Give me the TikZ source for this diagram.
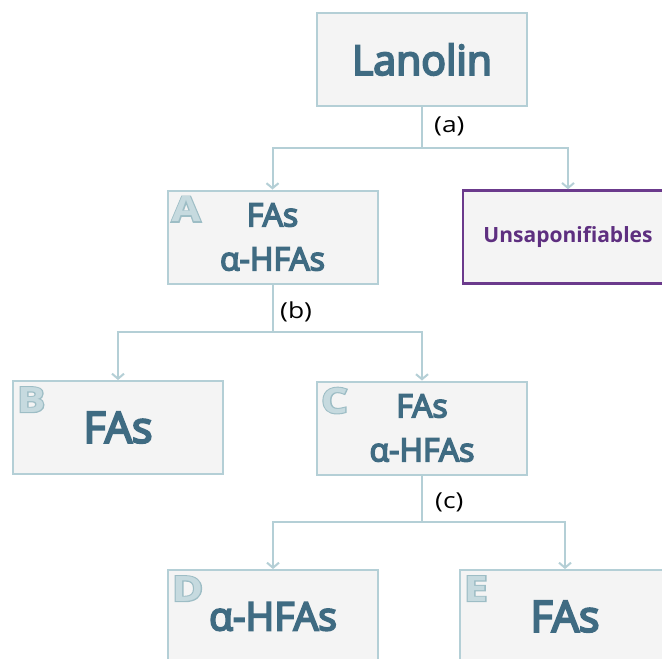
\documentclass[tikz,border=0pt]{standalone}
\usepackage{graphicx}
\usepackage{fontspec}
\setmainfont{Open Sans}
\newfontfamily\semib{Open Sans}[FakeBold=5]
\newfontfamily\lettfam{Open Sans}[BoldFeatures={FakeBold=6}]
\usetikzlibrary{arrows.meta}
\definecolor{bord}{HTML}{B4CFD6}
\definecolor{boxfill}{HTML}{F4F4F4}
\definecolor{txt}{HTML}{3F6B82}
\definecolor{purp}{HTML}{6B3A8C}
\definecolor{purptxt}{HTML}{5E2F80}
\definecolor{lettout}{HTML}{9DBDC5}
\definecolor{lettin}{HTML}{C6DADF}
\newcommand{\wideL}[1]{\scalebox{1.2}[1]{#1}}
\newcommand{\wideT}[1]{\scalebox{1.2}[1]{#1}}
\begin{document}
\begin{tikzpicture}[x=1pt,y=-1pt,
  box/.style={draw=bord, fill=boxfill, line width=2pt, minimum width=210pt, minimum height=93pt,
    text=txt, inner sep=0pt, align=center},
  ubox/.style={box, draw=purp, line width=2.5pt, text=purptxt},
  lettb/.style={anchor=north west, inner sep=0pt, text=lettout, font=\fontsize{35}{35}\selectfont\lettfam\bfseries},
  lettf/.style={anchor=north west, inner sep=0pt, text=lettin, font=\fontsize{35}{35}\selectfont\bfseries},
  conn/.style={draw=bord, line width=2pt},
  arr/.style={conn, -{Straight Barb[length=5pt,width=12pt]}},
  lbl/.style={anchor=west, inner sep=0pt, font=\fontsize{22}{24}\selectfont}]
\useasboundingbox (0,0) rectangle (662,659);
\clip (0,0) rectangle (662,659);
\fill[white] (0,0) rectangle (662,659);

\node[box, font=\fontsize{41}{44}\selectfont\semib] (lan) at (422,59.5) {Lanolin};
\node[box, font=\fontsize{32}{44}\selectfont\semib] (A) at (272.5,237) {FAs\\α-HFAs};
\node[ubox, font=\fontsize{21}{22}\selectfont\bfseries] (U) at (568,237) {Unsaponifiables};
\node[box, font=\fontsize{43}{48}\selectfont\semib] (B) at (118,427.5) {FAs};
\node[box, font=\fontsize{32}{44}\selectfont\semib] (C) at (422,428) {FAs\\α-HFAs};
\node[box, font=\fontsize{39}{40}\selectfont\semib] (D) at (273,616.5) {α-HFAs};
\node[box, font=\fontsize{43}{48}\selectfont\semib] (E) at (565,616.5) {FAs};

\foreach \b in {A,B,C,D,E}{
  \node[lettb] (lb\b) at ([shift={(5,7)}]\b.north west) {\wideL{\b}};
  \node[lettf] (lf\b) at ([shift={(5,7)}]\b.north west) {\wideL{\b}};
}

\coordinate (ja) at (422,148);
\coordinate (jb) at (272.5,332);
\coordinate (jc) at (422,522);

\draw[conn] (lan.south) -- (ja);
\draw[arr] (ja) -| (A.north);
\draw[arr] (ja) -| (U.north);
\draw[conn] (A.south) -- (jb);
\draw[arr] (jb) -| (B.north);
\draw[arr] (jb) -| (C.north);
\draw[conn] (C.south) -- (jc);
\draw[arr] (jc) -| (D.north);
\draw[arr] (jc) -| (E.north);

\node[lbl] (la) at (434,126) {\wideT{(a)}};
\node[lbl] (lbb) at (280,312) {\wideT{(b)}};
\node[lbl] (lcc) at (435,502) {\wideT{(c)}};
\end{tikzpicture}
\end{document}
